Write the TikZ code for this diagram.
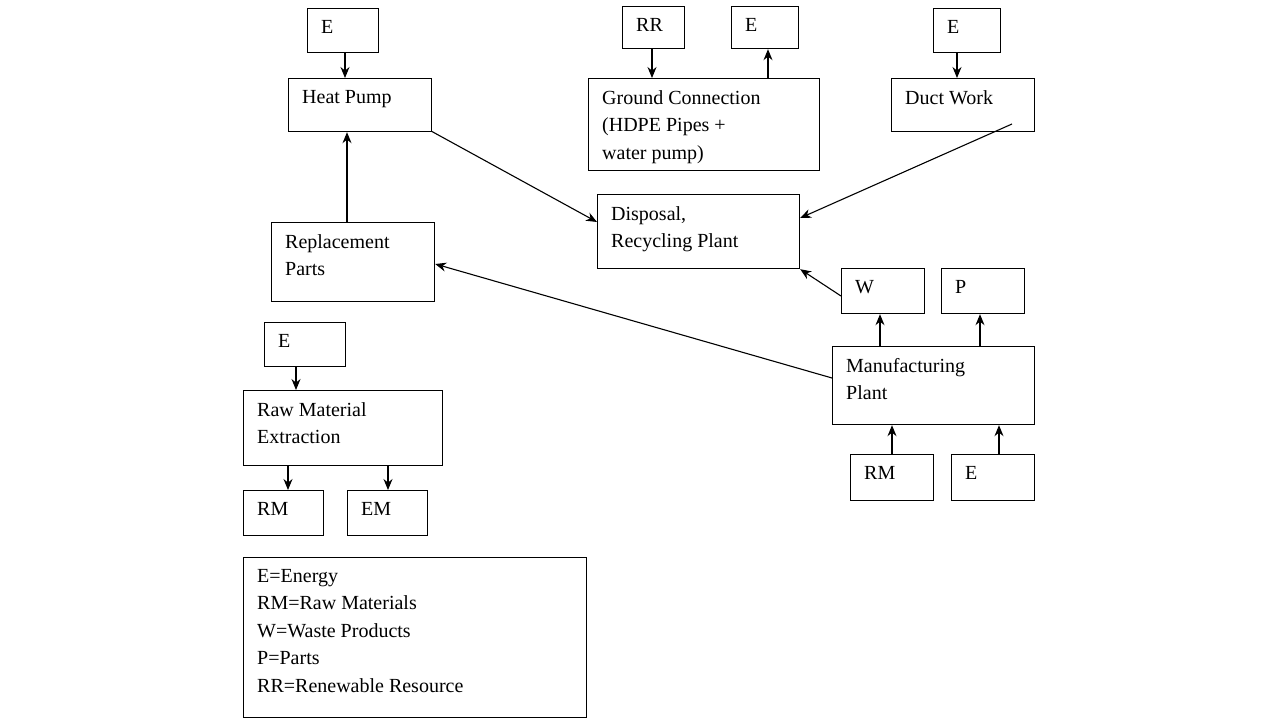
\documentclass[tikz,border=0pt]{standalone}
\usepackage{fontspec}
\setmainfont{Liberation Serif}
\usetikzlibrary{arrows.meta}
\begin{document}
\begin{tikzpicture}[x=1pt,y=-1pt,
  bx/.style={draw,line width=1.2pt,anchor=north west,inner sep=0pt},
  tx/.style={anchor=north west,inner sep=0pt,align=left,font=\fontsize{20}{27.5}\selectfont},
  ar/.style={-{Stealth[length=11pt,width=9pt]},line width=1.1pt}]
\useasboundingbox (0,0) rectangle (1280,720);
\fill[white] (0,0) rectangle (1280,720);
\newcommand\bb[6]{\node[bx,minimum width=#4-#2,minimum height=#5-#3] (#1) at (#2,#3) {};
  \node[tx] (#1t) at (#2+14,#3+12) {#6};}
\bb{e1}{307}{8}{378}{52}{E}
\bb{hp}{288}{78}{431}{131}{Heat Pump}
\bb{rr}{622}{6}{684}{48}{RR}
\bb{e2}{731}{6}{798}{48}{E}
\bb{gc}{588}{78}{819}{170}{Ground Connection\\(HDPE Pipes +\\water pump)}
\bb{e3}{933}{8}{1000}{52}{E}
\bb{dw}{891}{78}{1034}{131}{Duct Work}
\bb{dr}{597}{194}{799}{268}{Disposal,\\Recycling Plant}
\bb{rp}{271}{222}{434}{301}{Replacement\\Parts}
\bb{w}{841}{268}{924}{313}{W}
\bb{p}{941}{268}{1024}{313}{P}
\bb{mp}{832}{346}{1034}{424}{Manufacturing\\Plant}
\bb{rm2}{850}{454}{933}{500}{RM}
\bb{e4}{951}{454}{1034}{500}{E}
\bb{e5}{264}{322}{345}{366}{E}
\bb{rw}{243}{390}{442}{465}{Raw Material\\Extraction}
\bb{rm1}{243}{490}{323}{535}{RM}
\bb{em}{347}{490}{427}{535}{EM}
\bb{lg}{243}{557}{586}{717}{E=Energy\\RM=Raw Materials\\W=Waste Products\\P=Parts\\RR=Renewable Resource}
\draw[ar] (e1.south -| 345,0) -- (hp.north -| 345,0);
\draw[ar] (rr.south -| 652,0) -- (gc.north -| 652,0);
\draw[ar] (gc.north -| 768,0) -- (e2.south -| 768,0);
\draw[ar] (e3.south -| 957,0) -- (dw.north -| 957,0);
\draw[ar] (431,131) -- (dr.west |- 0,222);
\draw[ar] (1012,124) -- (dr.east |- 0,218);
\draw[ar] (841,296) -- (dr.south east);
\draw[ar] (rp.north -| 347,0) -- (hp.south -| 347,0);
\draw[ar] (mp.west |- 0,378) -- (rp.east |- 0,264);
\draw[ar] (mp.north -| 880,0) -- (w.south -| 880,0);
\draw[ar] (mp.north -| 980,0) -- (p.south -| 980,0);
\draw[ar] (rm2.north -| 892,0) -- (mp.south -| 892,0);
\draw[ar] (e4.north -| 999,0) -- (mp.south -| 999,0);
\draw[ar] (e5.south -| 296,0) -- (rw.north -| 296,0);
\draw[ar] (rw.south -| 288,0) -- (rm1.north -| 288,0);
\draw[ar] (rw.south -| 388,0) -- (em.north -| 388,0);
\end{tikzpicture}
\end{document}
